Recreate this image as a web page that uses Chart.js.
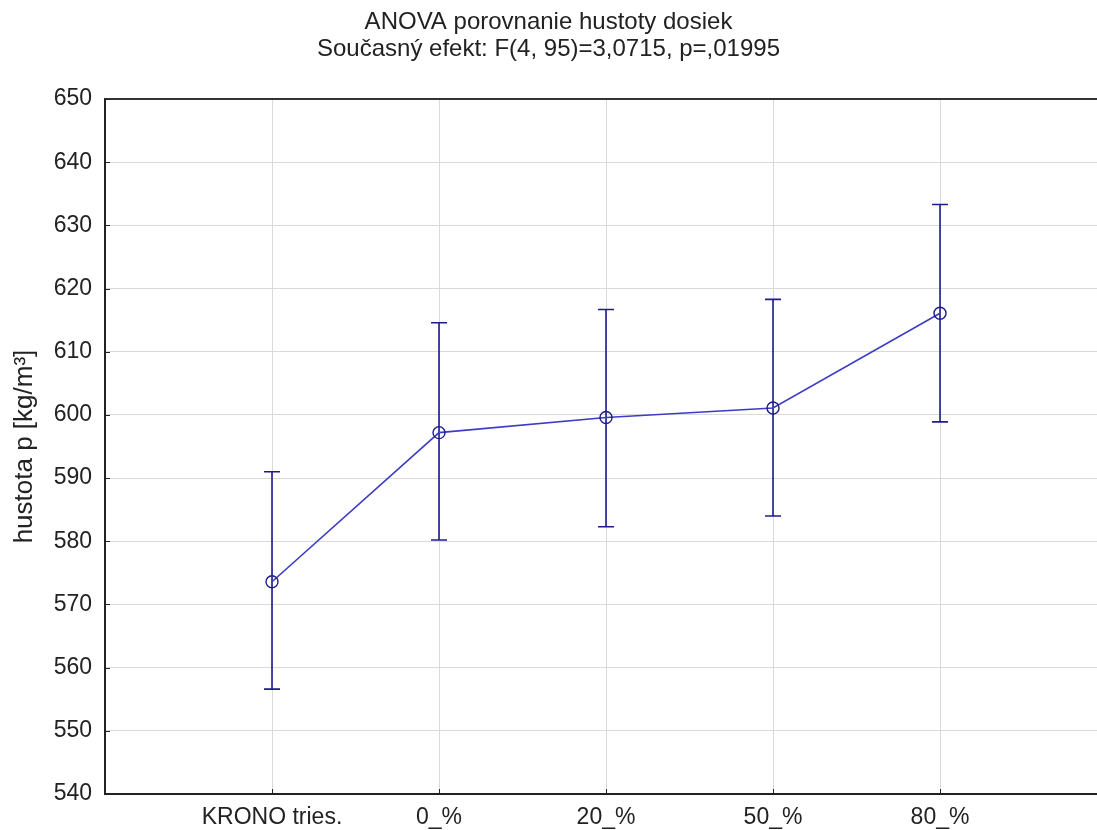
<!DOCTYPE html>
<html>
<head>
<meta charset="utf-8">
<script src="https://cdn.jsdelivr.net/npm/chart.js@4/dist/chart.umd.min.js"></script>
<style>
  body { margin: 0; background: #fff; }
  #wrap { width: 1097px; height: 830px; }
</style>
</head>
<body>
<div id="wrap"><canvas id="anovaChart" width="1097" height="830"></canvas></div>
<script>
// data
const categories = ['KRONO tries.', '0_%', '20_%', '50_%', '80_%'];
const means = [573.6, 597.2, 599.6, 601.1, 616.1];
const lowerCI = [556.6, 580.2, 582.3, 584.0, 598.9];
const upperCI = [591.0, 614.6, 616.7, 618.3, 633.3];
const yTicks = [540, 550, 560, 570, 580, 590, 600, 610, 620, 630, 640, 650];

const titleLines = ['ANOVA porovnanie hustoty dosiek', 'Současný efekt: F(4, 95)=3,0715, p=,01995'];
const yLabel = 'hustota p [kg/m³]';

const lineColor = '#3c3cc4';
const barColor = '#1c1c8c';
const font = 'Liberation Sans, Arial, sans-serif';

// vertical CI whiskers + top border + small inward ticks
const errorBars = {
    id: 'errorBars',
    beforeDatasetsDraw(chart) {
        const ctx = chart.ctx;
        const xs = chart.scales.x;
        const ys = chart.scales.y;
        ctx.save();
        ctx.strokeStyle = barColor;
        ctx.lineWidth = 1.6;
        means.forEach((m, i) => {
            const x = xs.getPixelForValue(i + 1);
            const yl = ys.getPixelForValue(lowerCI[i]);
            const yu = ys.getPixelForValue(upperCI[i]);
            ctx.beginPath();
            ctx.moveTo(x, yl); ctx.lineTo(x, yu);
            ctx.moveTo(x - 8, yl); ctx.lineTo(x + 8, yl);
            ctx.moveTo(x - 8, yu); ctx.lineTo(x + 8, yu);
            ctx.stroke();
        });
        ctx.restore();
    },
    afterDraw(chart) {
        const ctx = chart.ctx;
        const area = chart.chartArea;
        const xs = chart.scales.x;
        const ys = chart.scales.y;
        ctx.save();
        ctx.strokeStyle = '#333';
        ctx.lineWidth = 2;
        ctx.beginPath();
        ctx.moveTo(area.left, area.top);
        ctx.lineTo(area.right, area.top);
        ctx.stroke();
        ctx.lineWidth = 1;
        ctx.strokeStyle = '#222';
        ctx.beginPath();
        yTicks.forEach(v => {
            const y = Math.round(ys.getPixelForValue(v)) + 0.5;
            ctx.moveTo(area.left, y); ctx.lineTo(area.left + 5, y);
        });
        categories.forEach((c, i) => {
            const x = Math.round(xs.getPixelForValue(i + 1)) + 0.5;
            ctx.moveTo(x, area.bottom); ctx.lineTo(x, area.bottom - 5);
        });
        ctx.stroke();
        ctx.restore();
    }
};

const ctx = document.getElementById('anovaChart').getContext('2d');
const anovaChart = new Chart(ctx, {
    type: 'line',
    data: {
        datasets: [{
            data: means.map((m, i) => ({ x: i + 1, y: m })),
            borderColor: lineColor,
            borderWidth: 1.6,
            pointRadius: 6,
            pointBorderWidth: 1.4,
            pointBorderColor: barColor,
            pointBackgroundColor: 'rgba(0,0,0,0)',
            tension: 0,
            fill: false
        }]
    },
    options: {
        responsive: false,
        animation: false,
        layout: { padding: 0, autoPadding: false },
        plugins: {
            legend: { display: false },
            tooltip: { enabled: false },
            title: {
                display: true,
                text: titleLines,
                color: '#222',
                font: { family: font, size: 24, weight: 'normal', lineHeight: 1.12 },
                padding: { top: 9, bottom: 36.3 }
            }
        },
        scales: {
            x: {
                type: 'linear',
                min: 0,
                max: 5.94,
                afterFit(scale) {
                    scale.height = 36;
                    scale.paddingRight = 0;
                    scale.paddingLeft = 0;
                },
                border: { display: true, color: '#222', width: 2 },
                grid: {
                    drawTicks: false,
                    color: c => (c.tick && c.tick.value >= 1 ? '#dadada' : 'rgba(0,0,0,0)'),
                    lineWidth: 1
                },
                ticks: {
                    stepSize: 1,
                    includeBounds: false,
                    autoSkip: false,
                    maxRotation: 0,
                    padding: 10,
                    color: '#222',
                    font: { family: font, size: 23 },
                    callback: v => categories[v - 1] || ''
                }
            },
            y: {
                min: 540,
                max: 650,
                afterFit(scale) { scale.width = 105; },
                border: { display: true, color: '#222', width: 2 },
                grid: { drawTicks: false, color: '#dadada', lineWidth: 1 },
                ticks: {
                    stepSize: 10,
                    padding: 13,
                    color: '#222',
                    font: { family: font, size: 23 }
                },
                title: {
                    display: true,
                    text: yLabel,
                    color: '#222',
                    font: { family: font, size: 26 },
                    padding: { top: 9, bottom: 0 }
                }
            }
        }
    },
    plugins: [errorBars]
});
</script>
</body>
</html>
